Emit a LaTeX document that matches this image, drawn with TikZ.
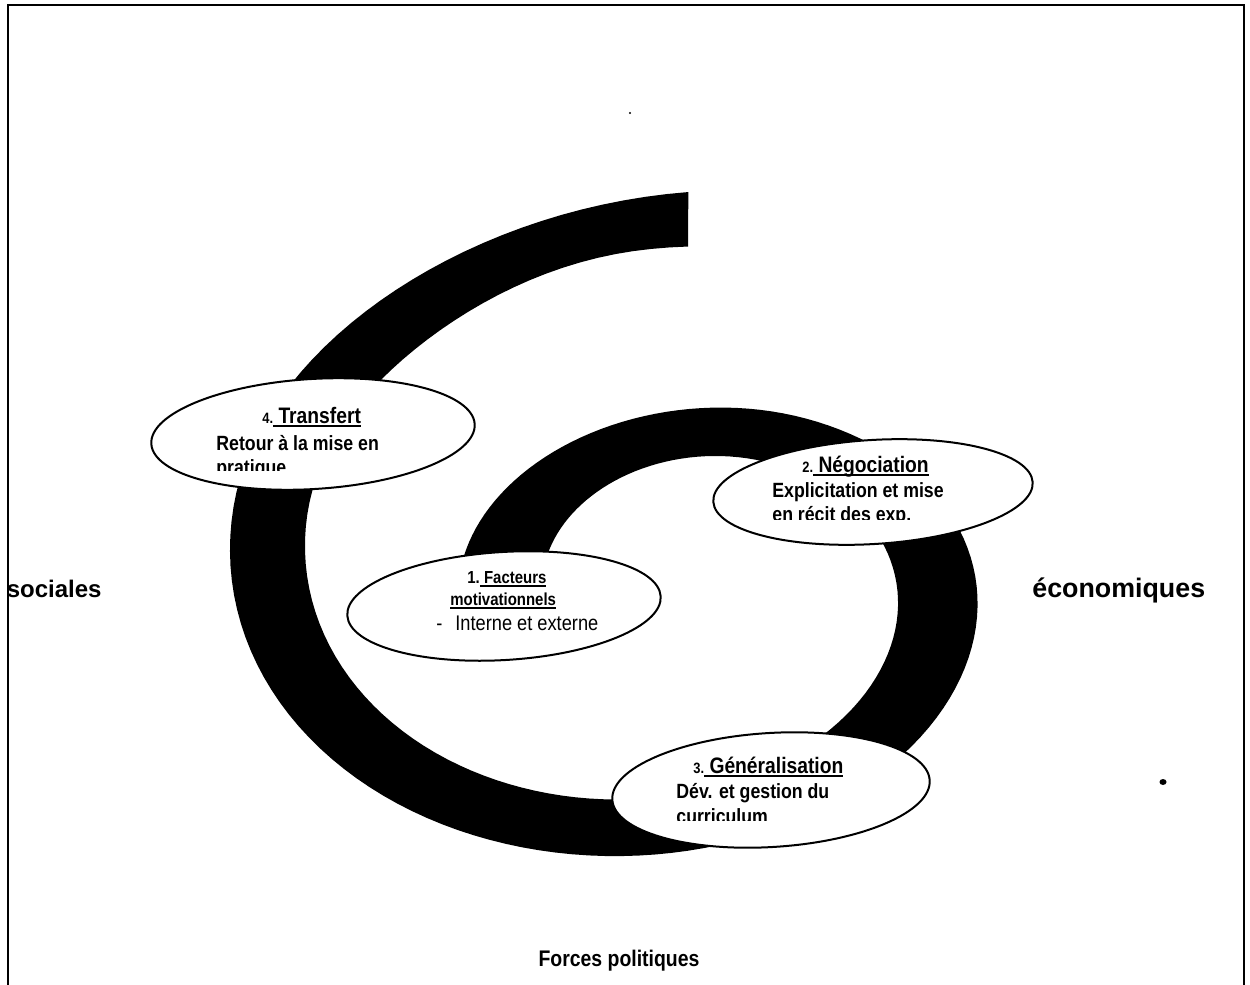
\documentclass[tikz,border=0pt]{standalone}
\usepackage{fontspec}
\setmainfont{Liberation Sans}
\newfontfamily\nar[FakeStretch=0.86]{Liberation Sans}
\usetikzlibrary{shapes.geometric}
\newcommand\myul[1]{\setbox0\hbox{#1}\rlap{\rule[-1.9pt]{\wd0}{0.8pt}}\box0}
\begin{document}
\begin{tikzpicture}[x=0.5pt,y=-0.5pt,
  bubble/.style={draw,line width=1pt,fill=white,ellipse,inner sep=0pt,rotate=3.5},
  ttl/.style={inner sep=0pt,anchor=base west,font=\nar\bfseries\fontsize{11.2}{13}\selectfont},
  body/.style={inner sep=0pt,anchor=base west,font=\nar\bfseries\fontsize{10.3}{12}\selectfont},
  side/.style={inner sep=0pt,font=\bfseries\fontsize{13}{15}\selectfont},
  small/.style={inner sep=0pt,anchor=base west,font=\nar\bfseries\fontsize{8.7}{10}\selectfont},
  plain/.style={inner sep=0pt,anchor=base west,font=\nar\fontsize{10.6}{12}\selectfont}
]
\useasboundingbox (0,0) rectangle (1250,985);
\fill[white] (0,0) rectangle (1250,985);
% frame
\draw[line width=1pt] (8,985) -- (8,5) -- (1244,5) -- (1244,985);
% spiral band
\fill[black]
  plot[domain=86.8:540, samples=180, variable=\t]
    ({661+(429.5-(\t-180)/180*115)*cos(\t)},
     {577.75-(384.75-(\t-90)/180*108.5)*sin(\t)
      +11*sin(180*min(1,max(0,(\t-86)/80)))
      +17*(max(0,\t-420)/75)*(max(0,\t-420)/75)})
  -- plot[domain=540:86.3, samples=180, variable=\t]
    ({661.25+(354.25-(\t-180)/180*120.5)*cos(\t)},
     {575.5-(327.5-(\t-90)/180*106)*sin(\t)
      +9*sin(180*min(1,max(0,(\t-92)/80)))*sin(180*min(1,max(0,(\t-92)/80)))
      +17*(max(0,\t-420)/75)*(max(0,\t-420)/75)})
  -- cycle;
% ellipses
\node[bubble,minimum width=162pt,minimum height=55pt] (e4) at (313,434) {};
\node[bubble,minimum width=160pt,minimum height=52pt] (e2) at (873,492) {};
\node[bubble,minimum width=157pt,minimum height=54pt] (e1) at (504,606) {};
\node[bubble,minimum width=159pt,minimum height=57pt] (e3) at (771,790) {};
% texts ellipse 4
\node[ttl] (t4) at (262,423) {{\fontsize{7.5}{9}\selectfont 4.}\myul{\ Transfert}};
\node[body] (b4a) at (216,450) {Retour à la mise en};
\begin{scope}
\clip (150,455) rectangle (400,470);
\node[body] (b4b) at (216,474) {pratique};
\end{scope}
% texts ellipse 2
\node[ttl] (t2) at (802,472) {{\fontsize{7.5}{9}\selectfont 2.}\myul{\ Négociation}};
\node[body] (b2a) at (772,497) {Explicitation et mise};
\begin{scope}
\clip (720,503) rectangle (1000,519);
\node[body] (b2b) at (772,521) {en récit des exp.};
\end{scope}
% texts ellipse 1
\node[small] (t1) at (467,583) {1.\myul{\ Facteurs}};
\node[small] (t1b) at (450,605) {\myul{motivationnels}};
\node[plain] (t1c) at (436,630) {-};
\node[plain] (t1d) at (455,630) {Interne et externe};
% texts ellipse 3
\node[ttl] (t3) at (693,773) {{\fontsize{7.5}{9}\selectfont 3.}\myul{\ Généralisation}};
\node[body] (b3a) at (676,798) {Dév. et gestion du};
\begin{scope}
\clip (620,803) rectangle (900,820);
\node[body] (b3b) at (676,823) {curriculum};
\end{scope}
% side labels
\node[side,anchor=base east,font=\bfseries\fontsize{12}{14}\selectfont] (soc) at (102,597) {sociales};
\node[side,anchor=base west,font=\bfseries\fontsize{13.4}{15}\selectfont] (eco) at (1032,597) {économiques};
\node[inner sep=0pt,anchor=base,font=\nar\bfseries\fontsize{11.3}{13}\selectfont] (pol) at (619,966) {Forces politiques};
% stray marks
\fill (630,113) circle (1.2);
\fill (1163,782) ellipse (3.5 and 3);
\end{tikzpicture}
\end{document}
